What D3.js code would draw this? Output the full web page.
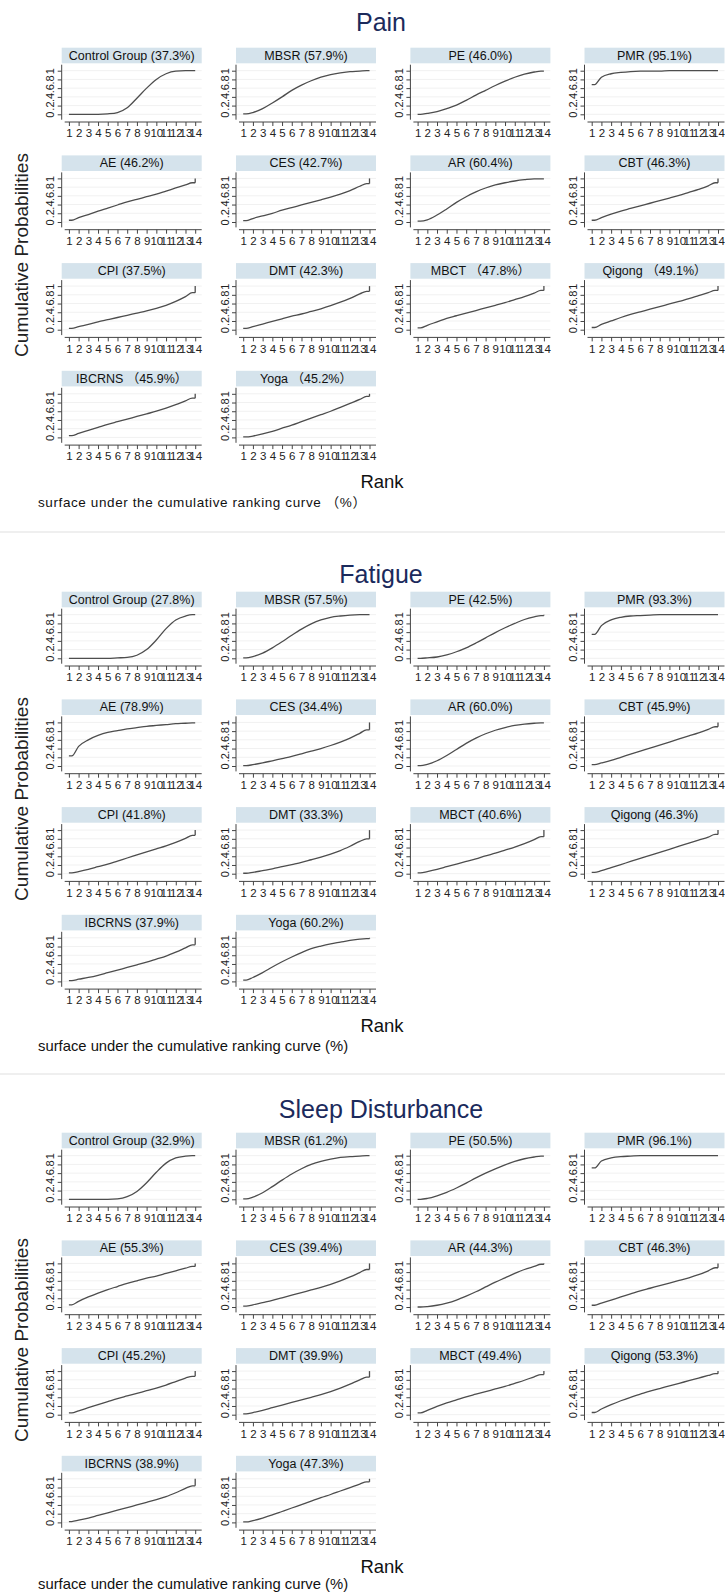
<!DOCTYPE html>
<html>
<head>
<meta charset="utf-8">
<script src="https://cdnjs.cloudflare.com/ajax/libs/d3/7.8.5/d3.min.js"></script>
<style>
  body { margin: 0; background: #fff; }
  text { font-family: "Liberation Sans", Arial, "Noto Sans CJK SC", sans-serif; }
</style>
</head>
<body>
<svg id="chart"></svg>
<script>
// outcomes, one block of 14 small plots each
var outcomes = ["Pain", "Fatigue", "Sleep Disturbance"];

var ranks = [1, 2, 3, 4, 5, 6, 7, 8, 9, 10, 11, 12, 13, 14];
var yTicks = [0, 0.2, 0.4, 0.6, 0.8, 1];
var yTickLabels = ["0", ".2", ".4", ".6", ".8", "1"];

var painLabels = ["Control Group (37.3%)", "MBSR (57.9%)", "PE (46.0%)", "PMR (95.1%)",
    "AE (46.2%)", "CES (42.7%)", "AR (60.4%)", "CBT (46.3%)",
    "CPI (37.5%)", "DMT (42.3%)", "MBCT （47.8%）", "Qigong （49.1%）",
    "IBCRNS （45.9%）", "Yoga （45.2%）"];
var fatigueLabels = ["Control Group (27.8%)", "MBSR (57.5%)", "PE (42.5%)", "PMR (93.3%)",
    "AE (78.9%)", "CES (34.4%)", "AR (60.0%)", "CBT (45.9%)",
    "CPI (41.8%)", "DMT (33.3%)", "MBCT (40.6%)", "Qigong (46.3%)",
    "IBCRNS (37.9%)", "Yoga (60.2%)"];
var sleepLabels = ["Control Group (32.9%)", "MBSR (61.2%)", "PE (50.5%)", "PMR (96.1%)",
    "AE (55.3%)", "CES (39.4%)", "AR (44.3%)", "CBT (46.3%)",
    "CPI (45.2%)", "DMT (39.9%)", "MBCT (49.4%)", "Qigong (53.3%)",
    "IBCRNS (38.9%)", "Yoga (47.3%)"];

// cumulative probability at rank 1..14 (last value = level before the final step to 1)
var painCurves = [
    [0, 0, 0, 0, 0.01, 0.04, 0.15, 0.37, 0.6, 0.8, 0.93, 0.99, 1, 1],
    [0.01, 0.04, 0.13, 0.26, 0.4, 0.55, 0.67, 0.77, 0.85, 0.91, 0.95, 0.98, 0.99, 1],
    [0, 0.02, 0.06, 0.13, 0.21, 0.32, 0.44, 0.55, 0.66, 0.76, 0.85, 0.92, 0.97, 0.99],
    [0.68, 0.85, 0.93, 0.96, 0.98, 0.99, 0.99, 0.99, 1, 1, 1, 1, 1, 1],
    [0.04, 0.1, 0.17, 0.25, 0.32, 0.39, 0.46, 0.52, 0.58, 0.64, 0.71, 0.78, 0.85, 0.9],
    [0.03, 0.08, 0.14, 0.2, 0.27, 0.33, 0.39, 0.45, 0.51, 0.57, 0.64, 0.72, 0.82, 0.88],
    [0.02, 0.05, 0.16, 0.3, 0.45, 0.58, 0.69, 0.78, 0.85, 0.9, 0.94, 0.97, 0.99, 0.99],
    [0.04, 0.1, 0.18, 0.25, 0.31, 0.37, 0.43, 0.49, 0.55, 0.61, 0.68, 0.75, 0.83, 0.9],
    [0.03, 0.07, 0.12, 0.18, 0.23, 0.28, 0.33, 0.38, 0.43, 0.49, 0.56, 0.65, 0.76, 0.85],
    [0.03, 0.07, 0.13, 0.19, 0.25, 0.31, 0.36, 0.42, 0.48, 0.55, 0.63, 0.72, 0.82, 0.88],
    [0.04, 0.1, 0.18, 0.26, 0.32, 0.38, 0.44, 0.5, 0.56, 0.62, 0.69, 0.76, 0.84, 0.9],
    [0.05, 0.12, 0.2, 0.28, 0.35, 0.41, 0.47, 0.53, 0.59, 0.65, 0.71, 0.78, 0.85, 0.9],
    [0.04, 0.09, 0.16, 0.23, 0.3, 0.36, 0.42, 0.48, 0.54, 0.6, 0.67, 0.75, 0.84, 0.9],
    [0.01, 0.03, 0.08, 0.14, 0.21, 0.28, 0.36, 0.44, 0.52, 0.6, 0.69, 0.78, 0.87, 0.94]
];
var fatigueCurves = [
    [0, 0, 0, 0, 0, 0.01, 0.02, 0.07, 0.2, 0.42, 0.68, 0.88, 0.97, 1],
    [0.01, 0.04, 0.12, 0.24, 0.38, 0.53, 0.67, 0.79, 0.88, 0.94, 0.97, 0.99, 1, 1],
    [0, 0.01, 0.03, 0.08, 0.15, 0.24, 0.35, 0.47, 0.59, 0.7, 0.8, 0.89, 0.95, 0.98],
    [0.55, 0.75, 0.88, 0.94, 0.97, 0.98, 0.99, 1, 1, 1, 1, 1, 1, 1],
    [0.23, 0.45, 0.6, 0.7, 0.77, 0.81, 0.85, 0.88, 0.91, 0.93, 0.95, 0.97, 0.98, 0.99],
    [0.01, 0.03, 0.07, 0.12, 0.17, 0.22, 0.28, 0.34, 0.4, 0.47, 0.55, 0.64, 0.75, 0.83],
    [0.01, 0.04, 0.12, 0.24, 0.38, 0.52, 0.64, 0.74, 0.82, 0.88, 0.93, 0.96, 0.98, 0.99],
    [0.03, 0.07, 0.13, 0.2, 0.27, 0.34, 0.41, 0.48, 0.55, 0.62, 0.69, 0.76, 0.84, 0.9],
    [0.02, 0.05, 0.1, 0.16, 0.22, 0.29, 0.36, 0.43, 0.5, 0.57, 0.64, 0.72, 0.81, 0.88],
    [0.01, 0.03, 0.07, 0.11, 0.16, 0.21, 0.26, 0.32, 0.38, 0.45, 0.53, 0.63, 0.74, 0.8],
    [0.02, 0.05, 0.1, 0.16, 0.22, 0.28, 0.34, 0.41, 0.47, 0.54, 0.61, 0.69, 0.78, 0.85],
    [0.03, 0.07, 0.14, 0.21, 0.28, 0.35, 0.42, 0.49, 0.56, 0.63, 0.7, 0.77, 0.84, 0.9],
    [0.02, 0.05, 0.09, 0.14, 0.2, 0.26, 0.32, 0.38, 0.44, 0.51, 0.58, 0.67, 0.77, 0.84],
    [0.03, 0.09, 0.2, 0.33, 0.45, 0.56, 0.66, 0.75, 0.81, 0.86, 0.9, 0.94, 0.97, 0.98]
];
var sleepCurves = [
    [0, 0, 0, 0, 0, 0.01, 0.06, 0.18, 0.38, 0.62, 0.83, 0.95, 0.99, 1],
    [0.01, 0.05, 0.15, 0.29, 0.44, 0.58, 0.7, 0.8, 0.87, 0.92, 0.96, 0.98, 0.99, 1],
    [0, 0.02, 0.08, 0.16, 0.26, 0.37, 0.49, 0.6, 0.7, 0.79, 0.87, 0.93, 0.97, 0.99],
    [0.72, 0.88, 0.95, 0.98, 0.99, 1, 1, 1, 1, 1, 1, 1, 1, 1],
    [0.05, 0.13, 0.23, 0.32, 0.4, 0.47, 0.54, 0.6, 0.66, 0.71, 0.77, 0.83, 0.89, 0.93],
    [0.02, 0.05, 0.1, 0.15, 0.21, 0.27, 0.33, 0.39, 0.45, 0.52, 0.6, 0.69, 0.79, 0.86],
    [0, 0.01, 0.04, 0.09, 0.16, 0.25, 0.35, 0.46, 0.57, 0.67, 0.77, 0.86, 0.93, 0.98],
    [0.04, 0.09, 0.16, 0.23, 0.3, 0.37, 0.43, 0.49, 0.55, 0.61, 0.67, 0.74, 0.83, 0.9],
    [0.04, 0.09, 0.16, 0.23, 0.3, 0.37, 0.43, 0.49, 0.55, 0.61, 0.68, 0.76, 0.84, 0.88],
    [0.02, 0.05, 0.1, 0.16, 0.22, 0.28, 0.34, 0.4, 0.46, 0.53, 0.61, 0.7, 0.8, 0.86],
    [0.04, 0.1, 0.19, 0.27, 0.34, 0.41, 0.47, 0.53, 0.59, 0.65, 0.72, 0.79, 0.87, 0.92],
    [0.05, 0.13, 0.23, 0.32, 0.4, 0.47, 0.54, 0.6, 0.66, 0.72, 0.78, 0.84, 0.9, 0.94],
    [0.02, 0.05, 0.1, 0.16, 0.22, 0.28, 0.34, 0.4, 0.46, 0.52, 0.59, 0.68, 0.78, 0.84],
    [0.01, 0.04, 0.1, 0.17, 0.25, 0.33, 0.41, 0.49, 0.57, 0.64, 0.72, 0.8, 0.88, 0.93]
];

var allLabels = [painLabels, fatigueLabels, sleepLabels];
var allCurves = [painCurves, fatigueCurves, sleepCurves];
var footnotes = ["surface under the cumulative ranking curve （%）",
    "surface under the cumulative ranking curve (%)",
    "surface under the cumulative ranking curve (%)"];

var width = 725,
    height = 1596;

var sectionTop = [0, 544, 1085];
var titleY = [31, 39, 33];
var footY = [507, 507, 504];
var colLeft = [61.7, 236, 410.4, 584.5];
var firstRow = 47.7,
    rowStep = 107.7,
    panelW = 140;

var svg = d3.select("#chart")
    .attr("width", width)
    .attr("height", height);

svg.append("rect")
    .attr("width", width)
    .attr("height", height)
    .attr("fill", "#fff");

// faint seams between the three stacked figures
svg.selectAll(".seam")
    .data([532, 1074])
    .enter().append("line")
    .attr("x1", 0).attr("x2", width)
    .attr("y1", function (d) { return d; })
    .attr("y2", function (d) { return d; })
    .attr("stroke", "#efefef")
    .attr("stroke-width", 2);

var curveLine = d3.line()
    .x(function (d) { return d.x; })
    .y(function (d) { return d.y; })
    .curve(d3.curveMonotoneX);

var stepLine = d3.line()
    .x(function (d) { return d.x; })
    .y(function (d) { return d.y; });

outcomes.forEach(function (name, s) {
    var top = sectionTop[s];
    var g = svg.append("g");

    g.append("text")
        .attr("x", 381)
        .attr("y", top + titleY[s])
        .attr("text-anchor", "middle")
        .style("font-size", "25px")
        .style("fill", "#1b2a5c")
        .text(name);

    g.append("text")
        .attr("transform", "translate(28," + (top + 255) + ") rotate(-90)")
        .attr("text-anchor", "middle")
        .style("font-size", "19px")
        .style("fill", "#222")
        .text("Cumulative Probabilities");

    g.append("text")
        .attr("x", 382)
        .attr("y", top + 488)
        .attr("text-anchor", "middle")
        .style("font-size", "18.5px")
        .style("fill", "#111")
        .text("Rank");

    g.append("text")
        .attr("x", 38)
        .attr("y", top + footY[s])
        .style("font-size", s == 0 ? "13.5px" : "14.8px")
        .style("letter-spacing", s == 0 ? "0.6px" : "0px")
        .style("fill", "#111")
        .text(footnotes[s]);

    allLabels[s].forEach(function (label, i) {
        var L = colLeft[i % 4];
        var T = top + firstRow + Math.floor(i / 4) * rowStep;
        var vals = allCurves[s][i];

        var x = d3.scaleLinear().domain([1, 14]).range([L + 7.2, L + 133.5]);
        var y = d3.scaleLinear().domain([0, 1]).range([T + 66.6, T + 23]);

        var p = g.append("g");

        // header strip
        p.append("rect")
            .attr("x", L)
            .attr("y", T)
            .attr("width", panelW)
            .attr("height", 15.6)
            .attr("fill", "#d5e3ec");
        p.append("text")
            .attr("x", L + panelW / 2)
            .attr("y", T + 12)
            .attr("text-anchor", "middle")
            .style("font-size", "12.5px")
            .style("fill", "#111")
            .text(label);

        // very light grid
        p.selectAll(".grid")
            .data(yTicks)
            .enter().append("line")
            .attr("x1", L + 1).attr("x2", L + panelW)
            .attr("y1", function (d) { return y(d); })
            .attr("y2", function (d) { return y(d); })
            .attr("stroke", "#f1f1f1")
            .attr("stroke-width", 1);

        var yAxis = p.append("g")
            .attr("transform", "translate(" + L + ",0)")
            .call(d3.axisLeft(y).tickValues(yTicks).tickSize(4).tickSizeOuter(0)
                .tickFormat(function (d, k) { return yTickLabels[k]; }));
        yAxis.select(".domain").remove();
        yAxis.selectAll("line").attr("stroke", "#444");
        yAxis.selectAll("text")
            .attr("transform", "rotate(-90)")
            .attr("x", 0)
            .attr("y", -7.5)
            .attr("dy", 0)
            .style("text-anchor", "middle")
            .style("font-size", "11px")
            .style("fill", "#222");

        var xAxis = p.append("g")
            .attr("transform", "translate(0," + (T + 74.3) + ")")
            .call(d3.axisBottom(x).tickValues(ranks).tickSize(4).tickSizeOuter(0));
        xAxis.select(".domain").remove();
        xAxis.selectAll("line").attr("stroke", "#444");
        xAxis.selectAll("text")
            .style("font-family", "'Liberation Sans Narrow', 'Arial Narrow', 'Liberation Sans', sans-serif")
            .style("font-size", "11.5px")
            .style("fill", "#222");

        // axis lines
        p.append("line")
            .attr("x1", L).attr("x2", L)
            .attr("y1", T + 17).attr("y2", T + 72)
            .attr("stroke", "#444");
        p.append("line")
            .attr("x1", L + 3).attr("x2", L + panelW)
            .attr("y1", T + 74.3).attr("y2", T + 74.3)
            .attr("stroke", "#444");

        // curve: short flat start, values at each rank, short flat end
        var pts = [{ x: x(1), y: y(vals[0]) }, { x: x(1.3), y: y(vals[0]) }];
        for (var k = 1; k < 13; k++) {
            pts.push({ x: x(ranks[k]), y: y(vals[k]) });
        }
        pts.push({ x: x(13.7), y: y(vals[13]) });
        pts.push({ x: x(14), y: y(vals[13]) });

        p.append("path")
            .attr("d", curveLine(pts))
            .attr("fill", "none")
            .attr("stroke", "#4d4d4d")
            .attr("stroke-width", 1.3);

        if (vals[13] < 0.99) {
            p.append("path")
                .attr("d", stepLine([{ x: x(14), y: y(vals[13]) }, { x: x(14), y: y(1) }]))
                .attr("fill", "none")
                .attr("stroke", "#4d4d4d")
                .attr("stroke-width", 1.3);
        }
    });
});
</script>
</body>
</html>
